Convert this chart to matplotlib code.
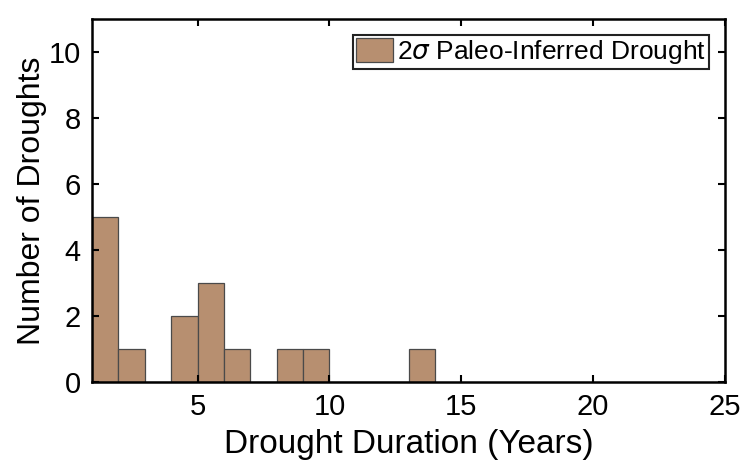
import matplotlib.pyplot as plt

plt.rcParams["font.family"] = ["Liberation Sans", "DejaVu Sans"]

# histogram of drought durations (bin left edges, width 1 year)
bin_left = [1, 2, 3, 4, 5, 6, 7, 8, 9, 10, 11, 12, 13]
counts = [5, 1, 0, 2, 3, 1, 0, 1, 1, 0, 0, 0, 1]
bin_width = 1

fig = plt.figure(figsize=(7.49, 4.73), dpi=100)
ax = fig.add_axes([92 / 749, 1 - 382 / 473, 633 / 749, 363 / 473])

ax.bar(bin_left, counts, width=bin_width, align="edge",
       color="#b78f70", edgecolor="#4a4a4a", linewidth=0.9,
       label=r"2$\sigma$ Paleo-Inferred Drought")

ax.set_xlim(1, 25)
ax.set_ylim(0, 11)
ax.set_xticks([5, 10, 15, 20, 25])
ax.set_yticks([0, 2, 4, 6, 8, 10])
ax.tick_params(direction="in", length=5, width=1.5, labelsize=21,
               top=True, right=True, pad=8)
for s in ax.spines.values():
    s.set_linewidth(1.8)

ax.set_xlabel("Drought Duration (Years)", fontsize=24, labelpad=6)
ax.set_ylabel("Number of Droughts", fontsize=23, labelpad=1)

leg = ax.legend(loc="upper right", fontsize=19, fancybox=False,
                edgecolor="#222222", framealpha=1, borderpad=0.12,
                handlelength=1.4, handleheight=1.0, handletextpad=0.15,
                borderaxespad=0.6)
leg.get_frame().set_linewidth(1.5)

fig.savefig("out.png", dpi=100)
